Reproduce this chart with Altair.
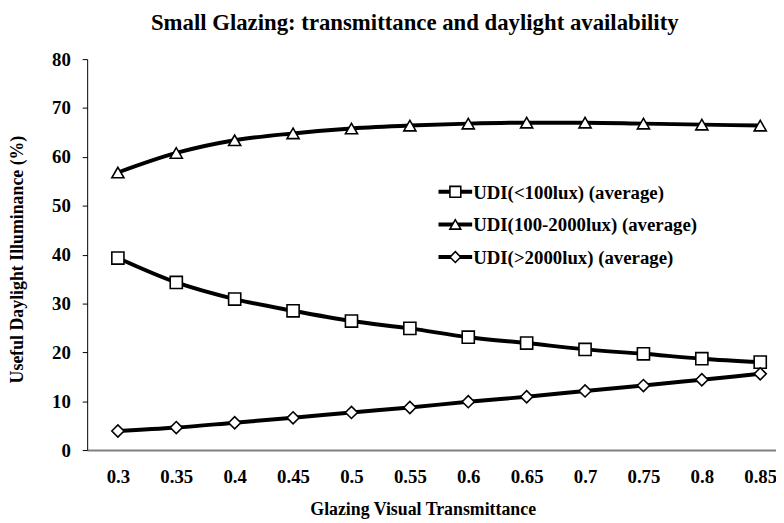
import altair as alt
import pandas as pd

# ---- data ----
transmittance = [0.3, 0.35, 0.4, 0.45, 0.5, 0.55, 0.6, 0.65, 0.7, 0.75, 0.8, 0.85]
udi_low = [39.3, 34.3, 30.9, 28.5, 26.4, 24.9, 23.1, 21.9, 20.6, 19.7, 18.7, 18.0]
udi_mid = [56.8, 60.8, 63.4, 64.8, 65.8, 66.4, 66.8, 67.0, 67.0, 66.8, 66.6, 66.4]
udi_high = [3.9, 4.6, 5.6, 6.6, 7.7, 8.7, 9.9, 10.9, 12.1, 13.2, 14.4, 15.6]
series_names = ["UDI(<100lux) (average)", "UDI(100-2000lux) (average)", "UDI(>2000lux) (average)"]
series_shapes = ["square", "triangle-up", "diamond"]
y_ticks = [0, 10, 20, 30, 40, 50, 60, 70, 80]

rows = []
for name, vals in zip(series_names, [udi_low, udi_mid, udi_high]):
    for t, v in zip(transmittance, vals):
        rows.append({"t": t, "value": v, "series": name})
df = pd.DataFrame(rows)

FONT = "Liberation Serif"
W, H = 696, 395

x_enc = alt.X("t:Q", scale=alt.Scale(domain=[0.2737, 0.8635], nice=False, zero=False),
              axis=alt.Axis(values=transmittance, format=".2~f", ticks=False,
                            domainColor="#808080", domainWidth=2, labelPadding=18,
                            labelFlush=False, labelOverlap=False, labelBound=False,
                            title="Glazing Visual Transmittance", titleX=339, titleY=65,
                            titleBaseline="alphabetic", titleAnchor="middle"))
y_enc = alt.Y("value:Q", scale=alt.Scale(domain=[0, 80], nice=False),
              axis=alt.Axis(values=y_ticks, tickSize=5, tickColor="black", domainColor="black",
                            labelPadding=12, title="Useful Daylight Illuminance (%)",
                            titleX=-65, titleY=202, titleBaseline="alphabetic", titleAngle=-90))

shape_scale = alt.Scale(domain=series_names, range=series_shapes)

lines = alt.Chart(df).mark_line(interpolate="monotone", strokeWidth=4, color="black",
                                strokeCap="round").encode(
    x=x_enc, y=y_enc, detail="series:N")

points = alt.Chart(df).mark_point(filled=True, fill="white", stroke="black", strokeWidth=1.6,
                                  opacity=1, size=150).encode(
    x="t:Q", y="value:Q",
    shape=alt.Shape("series:N", scale=shape_scale, legend=None))

# manual legend (Excel style)
leg_df = pd.DataFrame({"dummy": [0]})
legend_layers = []
for i, (name, shp) in enumerate(zip(series_names, series_shapes)):
    ly = 134 + i * 33
    legend_layers.append(alt.Chart(leg_df).mark_rule(strokeWidth=4, color="black").encode(
        x=alt.value(355), x2=alt.value(389), y=alt.value(ly)))
    legend_layers.append(alt.Chart(leg_df).mark_point(filled=True, fill="white", stroke="black",
                                                       strokeWidth=1.6, opacity=1, size=120).encode(
        x=alt.value(372), y=alt.value(ly), shape=alt.value(shp)))
    legend_layers.append(alt.Chart(leg_df).mark_text(align="left", baseline="middle", font=FONT,
                                                      fontSize=19, fontWeight="bold", color="black").encode(
        x=alt.value(390), y=alt.value(ly + 1), text=alt.value(name)))

chart = alt.layer(lines, points, *legend_layers).properties(
    width=W, height=H,
    background="white",
    title=alt.TitleParams("Small Glazing: transmittance and daylight availability",
                          font=FONT, fontSize=23, fontWeight="bold", color="black",
                          anchor="middle", dx=-17, dy=21, offset=18, baseline="alphabetic"),
    autosize=alt.AutoSizeParams(type="none"),
    padding={"left": 80, "top": 49, "right": 0, "bottom": 69},
).configure_view(stroke=None).configure_axis(
    grid=False, labelFont=FONT, labelFontSize=19, labelFontWeight="bold", labelColor="black",
    titleFont=FONT, titleFontSize=18, titleFontWeight="bold", titleColor="black",
)

chart.save("out.html", embed_options={"renderer": "svg", "actions": False})
